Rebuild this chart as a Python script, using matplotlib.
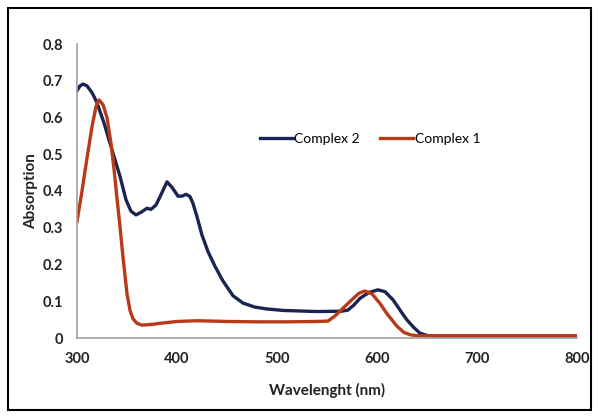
import matplotlib
matplotlib.use("Agg")
import matplotlib.pyplot as plt
from matplotlib.patches import Rectangle

plt.rcParams['font.family'] = ['Lato', 'DejaVu Sans']

wl2 = [300, 303, 306, 310, 315, 320, 327, 333, 338, 343, 349, 354, 359, 364, 370, 374, 379, 384, 390, 395,
       401, 405, 409, 413, 416, 420, 425, 431, 438, 446, 456, 466, 478, 490, 506, 540, 565, 571, 577, 583, 592, 601,
       608, 616, 623, 630, 637, 643, 650, 656, 800]
abs2 = [0.673, 0.686, 0.691, 0.686, 0.668, 0.64, 0.585, 0.53, 0.485, 0.44, 0.376, 0.345, 0.335, 0.342, 0.353,
        0.35, 0.362, 0.39, 0.425, 0.41, 0.386, 0.386, 0.391, 0.385, 0.366, 0.33, 0.28, 0.235, 0.195, 0.155, 0.115,
        0.095, 0.084, 0.079, 0.075, 0.072, 0.073, 0.076, 0.09, 0.108, 0.124, 0.131, 0.126, 0.104, 0.076, 0.049, 0.028,
        0.013, 0.007, 0.005, 0.005]

wl1 = [300, 305, 310, 315, 319, 322, 326, 330, 334, 337, 340, 343, 346, 350, 353, 356, 360, 365, 375, 383,
       400, 420, 450, 480, 510, 540, 551, 558, 566, 574, 582, 588, 595, 603, 610, 620, 627, 633, 640, 800]
abs1 = [0.317, 0.40, 0.49, 0.575, 0.63, 0.648, 0.635, 0.6, 0.53, 0.46, 0.38, 0.303, 0.22, 0.12, 0.075, 0.052,
        0.04, 0.035, 0.037, 0.04, 0.045, 0.047, 0.045, 0.044, 0.044, 0.045, 0.046, 0.06, 0.081, 0.102, 0.122,
        0.128, 0.12, 0.094, 0.066, 0.032, 0.015, 0.009, 0.006, 0.006]

labels = ["Complex 2", "Complex 1"]
colors = ["#1b2450", "#b83a18"]

fig = plt.figure(figsize=(5.98, 4.16), dpi=100)
ax = fig.add_axes([77/598, 78/416, 500/598, 294/416])

ax.plot(wl2, abs2, color=colors[0], lw=2.4, label=labels[0], solid_joinstyle="round")
ax.plot(wl1, abs1, color=colors[1], lw=2.4, label=labels[1], solid_joinstyle="round")

ax.set_xlim(300, 800)
ax.set_ylim(0, 0.8)
ax.set_xticks([300, 400, 500, 600, 700, 800])
ax.set_yticks([0, 0.1, 0.2, 0.3, 0.4, 0.5, 0.6, 0.7, 0.8])
ax.set_yticklabels(["0", "0.1", "0.2", "0.3", "0.4", "0.5", "0.6", "0.7", "0.8"])
for s in ["top", "right"]:
    ax.spines[s].set_visible(False)
for s in ["left", "bottom"]:
    ax.spines[s].set_color("#a0a0a0")
    ax.spines[s].set_linewidth(1.2)
ax.tick_params(length=0, labelsize=10.5, pad=10, colors="#222222")
for t in ax.get_xticklabels() + ax.get_yticklabels():
    t.set_fontweight("bold")
ax.set_xlabel("Wavelenght (nm)", fontsize=11, fontweight="bold", color="#222222", labelpad=12)
ax.set_ylabel("Absorption", fontsize=11, fontweight="bold", color="#222222", labelpad=3)

leg = ax.legend(loc="center", bbox_to_anchor=(0.586, 0.677), ncol=2, frameon=False,
                fontsize=10, handlelength=2.4, handletextpad=0.1, columnspacing=1.45)

fig.patches.append(Rectangle((8/598, 6/416), 583/598, 402/416, transform=fig.transFigure,
                             fill=False, edgecolor="black", lw=1.5))

fig.savefig("out.png", dpi=100)
